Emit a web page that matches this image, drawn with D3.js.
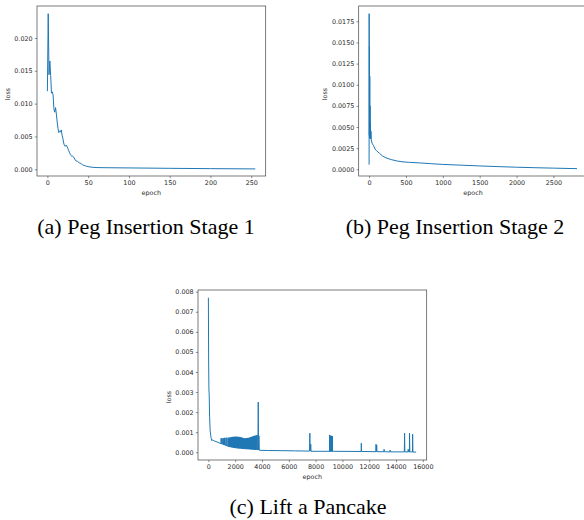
<!DOCTYPE html>
<html>
<head>
<meta charset="utf-8">
<script src="https://cdn.jsdelivr.net/npm/d3@7"></script>
<style>
  body { margin: 0; background: #fff; }
  svg { display: block; }
</style>
</head>
<body>
<div id="figure"></div>
<script>
//loss curves, [epoch, loss]
var stage1Loss = [
  [0, 0.0119], [1, 0.0237], [2, 0.0144], [3, 0.0165], [4, 0.0143], [5, 0.0116],
  [6, 0.0118], [7, 0.0113], [8, 0.0092], [9, 0.0087], [10, 0.0094], [11, 0.0084],
  [12, 0.0072], [13, 0.0062], [14, 0.0056], [15, 0.0058], [16, 0.0057], [17, 0.0060],
  [18, 0.0052], [19, 0.0047], [20, 0.0040], [21, 0.0036], [22, 0.0035], [23, 0.0037],
  [24, 0.0035], [25, 0.0032], [26, 0.0029], [27, 0.0026], [28, 0.0023], [29, 0.0021],
  [30, 0.0020], [31, 0.0020], [32, 0.0019], [33, 0.0017], [34, 0.0014], [35, 0.0013],
  [37, 0.0012], [39, 0.0010], [41, 0.0009], [43, 0.0007], [45, 0.0006], [48, 0.00046],
  [52, 0.00036], [56, 0.0003], [62, 0.00026], [73, 0.00024], [100, 0.00021],
  [150, 0.00015], [200, 0.0001], [255, 0.00006]
];

var stage2Loss = [
  [0, 0.00055], [1, 0.0184], [3, 0.0040], [5, 0.0145], [7, 0.0038], [9, 0.0110],
  [11, 0.0037], [13, 0.0075], [15, 0.0036], [18, 0.0055], [21, 0.0036], [25, 0.0045],
  [30, 0.0035], [40, 0.0031], [60, 0.0028], [80, 0.0024], [100, 0.0022], [140, 0.0019],
  [180, 0.0016], [230, 0.00135], [300, 0.00115], [380, 0.00098], [460, 0.00088],
  [550, 0.00082], [700, 0.00075], [850, 0.00066], [1000, 0.00058], [1250, 0.00049],
  [1500, 0.0004], [1750, 0.00032], [2000, 0.00025], [2250, 0.00019], [2500, 0.00014],
  [2820, 0.00008]
];

var liftLoss = [
  [0, 0.0077], [20, 0.0045], [40, 0.0031], [60, 0.0029], [90, 0.0018], [130, 0.0011],
  [180, 0.0008], [220, 0.00068], [260, 0.00058], [300, 0.00062], [400, 0.00058],
  [500, 0.00055], [700, 0.0005], [900, 0.00044],
  [940, 0.00043], [950, 0.0007], [960, 0.00043], [1020, 0.00041], [1030, 0.0007],
  [1040, 0.00041], [1130, 0.00038], [1140, 0.0007], [1150, 0.00038], [1200, 0.00037],
  [1210, 0.00072], [1220, 0.00037], [1300, 0.00034], [1310, 0.00072], [1320, 0.00034],
  [1380, 0.00032], [1390, 0.00073], [1400, 0.00032], [1460, 0.0003],
  [1800, 0.00025], [2100, 0.00022], [2400, 0.0002], [2700, 0.00018], [3000, 0.00017],
  [3300, 0.00015], [3600, 0.00014], [3700, 0.00013], [3720, 0.0025], [3740, 0.00012],
  [3770, 0.00082], [3800, 0.0001], [4500, 0.00009], [5500, 0.00008], [6500, 0.00007],
  [7550, 0.00006], [7570, 0.00095], [7590, 0.00006], [7640, 0.0004], [7660, 0.00005],
  [9000, 0.00005], [9300, 0.00005], [11400, 0.00004], [11410, 0.00045], [11430, 0.00004],
  [12500, 0.00003], [12510, 0.0004], [12530, 0.00003], [12560, 0.00035], [12580, 0.00003],
  [13100, 0.00003], [13110, 0.00015], [13130, 0.00003], [13550, 0.00002], [13560, 0.00011],
  [13580, 0.00002], [14620, 0.00002], [14640, 0.00095], [14660, 0.00002], [14900, 0.00002],
  [14910, 0.00015], [14930, 0.00002], [15000, 0.00002], [15010, 0.00095], [15030, 0.00002],
  [15230, 0.00002], [15240, 0.0009], [15260, 0.00001], [15500, 0.00001]
];

//dense oscillation in the pancake run, [epoch, low, high]
var liftBandA = [
  [1450, 0.0003, 0.00073], [1800, 0.00025, 0.00078], [2100, 0.00022, 0.00079],
  [2400, 0.0002, 0.00076], [2700, 0.00018, 0.0007], [3000, 0.00017, 0.00073],
  [3300, 0.00015, 0.0008], [3550, 0.00014, 0.00085], [3690, 0.00013, 0.00088]
];
var liftBandB = [
  [9000, 0.00005, 0.00087], [9150, 0.00005, 0.00084], [9300, 0.00005, 0.0008]
];

//ticks
var stage1XTicks = [0, 50, 100, 150, 200, 250];
var stage1YTicks = [0, 0.005, 0.010, 0.015, 0.020];
var stage2XTicks = [0, 500, 1000, 1500, 2000, 2500];
var stage2YTicks = [0, 0.0025, 0.0050, 0.0075, 0.0100, 0.0125, 0.0150, 0.0175];
var liftXTicks = [0, 2000, 4000, 6000, 8000, 10000, 12000, 14000, 16000];
var liftYTicks = [0, 0.001, 0.002, 0.003, 0.004, 0.005, 0.006, 0.007, 0.008];

var captions = ['(a) Peg Insertion Stage 1', '(b) Peg Insertion Stage 2', '(c) Lift a Pancake'];

//page setup
var w = 584;
var h = 520;
var axW = 228.7;
var axH = 170;
var lineColor = '#1f77b4';
var tickFont = 6.4;

var svg = d3.select('#figure')
  .append('svg')
  .attr('width', w)
  .attr('height', h);

svg.append('rect').attr('width', w).attr('height', h).attr('fill', '#fff');

function drawPanel(p) {
  var g = svg.append('g');
  var xScale = d3.scaleLinear().domain(p.xDomain).range([p.left, p.left + axW]);
  var yScale = d3.scaleLinear().domain(p.yDomain).range([p.top + axH, p.top]);

  var clipId = 'clip' + p.id;
  g.append('clipPath').attr('id', clipId)
    .append('rect')
    .attr('x', p.left).attr('y', p.top)
    .attr('width', axW).attr('height', axH);

  var plot = g.append('g').attr('clip-path', 'url(#' + clipId + ')');

  //filled bands for the very dense parts
  (p.bands || []).forEach(function(band) {
    plot.append('path')
      .datum(band)
      .attr('fill', lineColor)
      .attr('d', d3.area()
        .x(function(d) { return xScale(d[0]); })
        .y0(function(d) { return yScale(d[1]); })
        .y1(function(d) { return yScale(d[2]); }));
  });

  plot.append('path')
    .datum(p.data)
    .attr('fill', 'none')
    .attr('stroke', lineColor)
    .attr('stroke-width', 1)
    .attr('stroke-linejoin', 'round')
    .attr('d', d3.line()
      .x(function(d) { return xScale(d[0]); })
      .y(function(d) { return yScale(d[1]); }));

  //axes
  var xAxis = g.append('g')
    .attr('transform', 'translate(0,' + (p.top + axH) + ')')
    .call(d3.axisBottom(xScale).tickValues(p.xTicks).tickSize(2.2).tickPadding(2.2)
      .tickFormat(d3.format('d')));
  var yAxis = g.append('g')
    .attr('transform', 'translate(' + p.left + ',0)')
    .call(d3.axisLeft(yScale).tickValues(p.yTicks).tickSize(2.2).tickPadding(2.2)
      .tickFormat(d3.format(p.yFormat)));

  [xAxis, yAxis].forEach(function(a) {
    a.select('.domain').remove();
    a.selectAll('.tick line').attr('stroke', '#444').attr('stroke-width', 0.6);
    a.selectAll('.tick text')
      .attr('fill', '#2a2a2a')
      .style('font-family', '"DejaVu Sans", sans-serif')
      .style('font-size', tickFont + 'px');
  });

  //frame
  g.append('rect')
    .attr('x', p.left).attr('y', p.top)
    .attr('width', axW).attr('height', axH)
    .attr('fill', 'none')
    .attr('stroke', '#444')
    .attr('stroke-width', 0.7);

  g.append('text')
    .attr('x', p.left + axW / 2)
    .attr('y', p.top + axH + 16.7)
    .attr('text-anchor', 'middle')
    .attr('dominant-baseline', 'central')
    .attr('fill', '#2a2a2a')
    .style('font-family', '"DejaVu Sans", sans-serif')
    .style('font-size', tickFont + 'px')
    .text('epoch');

  g.append('text')
    .attr('transform', 'translate(' + p.labelX + ',' + p.labelY + ') rotate(-90)')
    .attr('text-anchor', 'middle')
    .attr('dominant-baseline', 'central')
    .attr('fill', '#2a2a2a')
    .style('font-family', '"DejaVu Sans", sans-serif')
    .style('font-size', tickFont + 'px')
    .text('loss');

  svg.append('text')
    .attr('x', p.capX)
    .attr('y', p.capY)
    .attr('text-anchor', 'middle')
    .attr('fill', '#000')
    .style('font-family', '"Liberation Serif", "Times New Roman", serif')
    .style('font-size', '22px')
    .text(p.caption);
}

drawPanel({
  id: 'a', data: stage1Loss, left: 37, top: 6,
  xDomain: [-12.75, 267.75], yDomain: [-0.00102, 0.02487],
  xTicks: stage1XTicks, yTicks: stage1YTicks, yFormat: '.3f',
  labelX: 8, labelY: 94, caption: captions[0], capX: 146, capY: 233.5
});

drawPanel({
  id: 'b', data: stage2Loss, left: 358.7, top: 6,
  xDomain: [-141, 2961], yDomain: [-0.00079, 0.01931],
  xTicks: stage2XTicks, yTicks: stage2YTicks, yFormat: '.4f',
  labelX: 325.3, labelY: 94, caption: captions[1], capX: 455, capY: 233.5
});

drawPanel({
  id: 'c', data: liftLoss, bands: [liftBandA, liftBandB], left: 198, top: 290,
  xDomain: [-775, 16290], yDomain: [-0.000384, 0.008085],
  xTicks: liftXTicks, yTicks: liftYTicks, yFormat: '.3f',
  labelX: 169, labelY: 397, caption: captions[2], capX: 308, capY: 514.3
});
</script>
</body>
</html>
